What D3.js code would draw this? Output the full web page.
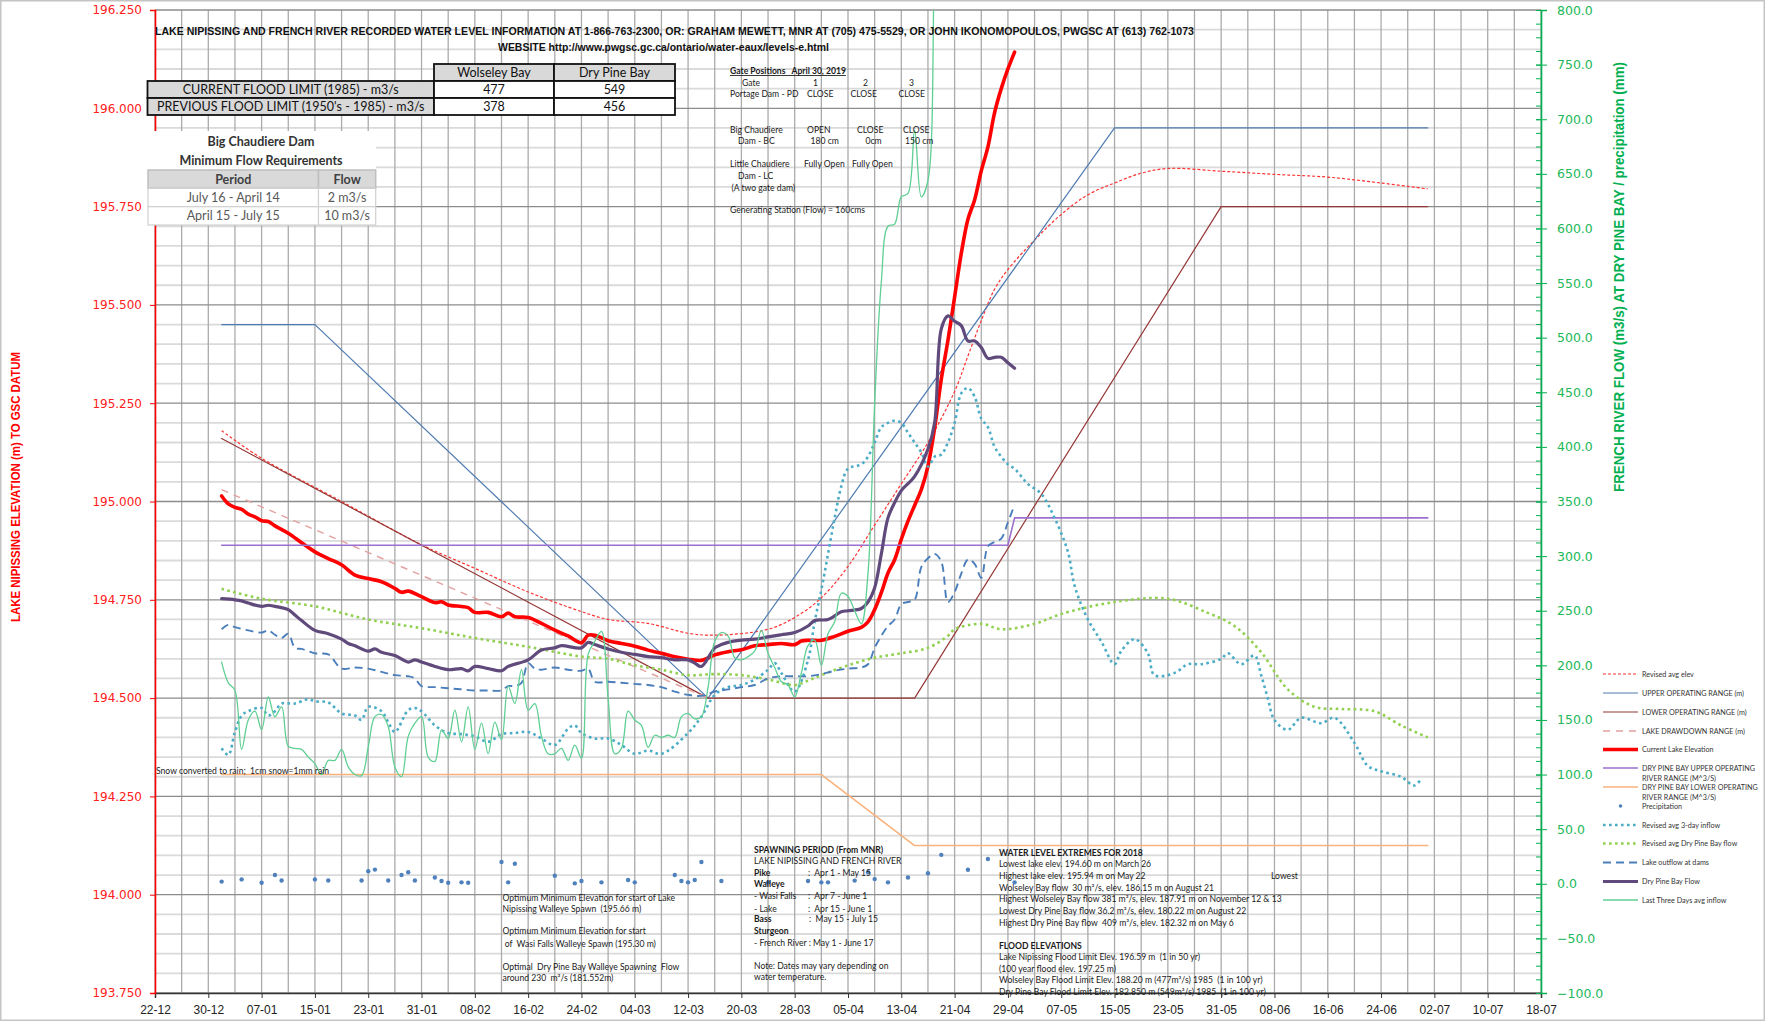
<!DOCTYPE html>
<html>
<head>
<meta charset="utf-8">
<script src="https://cdn.jsdelivr.net/npm/d3@7"></script>
<style>
  body { margin: 0; background: #fff; }
  text { font-family: Lato, "Liberation Sans", sans-serif; }
</style>
</head>
<body>
<div id="chart"></div>
<script>

// ---- data (dates are 2019, "MM-DD") ----

// left axis (m)
var upperRange = [["01-01",195.45],["01-15",195.45],["03-15",194.50],["05-15",195.95],["07-01",195.95]];
var lowerRange = [["01-01",195.16],["03-15",194.50],["04-15",194.50],["05-31",195.75],["07-01",195.75]];
var drawdownRange = [["01-01",195.03],["03-15",194.50]];
var revisedElev = [["01-01",195.18],["01-07",195.11],["01-19",195.00],["01-31",194.89],["02-08",194.83],["02-16",194.77],
  ["02-24",194.72],["02-28",194.70],["03-06",194.69],["03-12",194.665],["03-16",194.66],["03-24",194.675],["03-28",194.705],
  ["04-01",194.755],["04-05",194.835],["04-09",194.94],["04-13",195.045],["04-17",195.15],["04-21",195.28],["04-23",195.37],
  ["04-25",195.46],["04-27",195.54],["04-29",195.59],["05-03",195.665],["05-07",195.73],["05-11",195.78],["05-15",195.81],
  ["05-19",195.835],["05-23",195.847],["05-31",195.84],["06-08",195.832],["06-16",195.825],["06-24",195.81],["07-01",195.795]];
var currentElev = [["01-01",195.014],["01-02",194.994],["01-03",194.985],["01-04",194.98],["01-05",194.968],["01-06",194.961],
  ["01-07",194.951],["01-08",194.949],["01-09",194.938],["01-11",194.919],["01-13",194.895],["01-15",194.872],["01-17",194.855],
  ["01-19",194.839],["01-21",194.813],["01-23",194.804],["01-25",194.796],["01-27",194.779],["01-28",194.769],["01-29",194.772],
  ["01-31",194.758],["02-02",194.743],["02-03",194.745],["02-04",194.737],["02-06",194.733],["02-07",194.73],["02-08",194.718],
  ["02-10",194.718],["02-12",194.707],["02-13",194.716],["02-14",194.707],["02-16",194.705],["02-18",194.69],["02-20",194.673],
  ["02-22",194.658],["02-24",194.641],["02-25",194.66],["02-26",194.66],["02-28",194.646],["03-02",194.639],["03-04",194.632],
  ["03-06",194.622],["03-08",194.614],["03-10",194.605],["03-12",194.599],["03-14",194.596],["03-15",194.602],["03-16",194.61],
  ["03-18",194.618],["03-20",194.623],["03-22",194.633],["03-24",194.636],["03-26",194.639],["03-28",194.636],["03-29",194.645],
  ["03-30",194.647],["04-01",194.647],["04-03",194.657],["04-05",194.67],["04-07",194.68],["04-08",194.694],["04-09",194.725],
  ["04-10",194.768],["04-11",194.818],["04-12",194.852],["04-13",194.904],["04-14",194.95],["04-15",194.99],["04-16",195.03],
  ["04-17",195.09],["04-18",195.187],["04-19",195.311],["04-20",195.41],["04-21",195.52],["04-22",195.631],["04-23",195.718],
  ["04-24",195.767],["04-25",195.841],["04-26",195.902],["04-27",195.989],["04-28",196.05],["04-29",196.10],["04-30",196.143]];

// right axis (m3/s, mm)
var dryPineUpper = [["01-01",310],["04-29",310],["04-30",335],["07-01",335]];
var dryPineLower = [["01-01",100],["04-01",100],["04-15",35],["07-01",35]];
var precipitation = [["01-01",2],["01-04",4],["01-07",1],["01-09",8],["01-10",3],["01-15",4],["01-17",3],["01-22",3],
  ["01-23",11.5],["01-24",13],["01-26",3],["01-28",8],["01-29",10.5],["01-30",3],["02-02",5.7],["02-03",2.6],["02-04",1],
  ["02-06",1.3],["02-07",1],["02-12",20],["02-13",1.3],["02-14",18.4],["02-20",7.4],["02-23",0.4],["02-24",2.6],["02-27",1.3],
  ["03-03",3.4],["03-04",1.3],["03-10",8],["03-11",2.6],["03-12",1.3],["03-13",3.4],["03-14",20],["03-17",2.6],["03-24",1.3],
  ["03-30",2.6],["04-01",1.3],["04-02",1.3],["04-06",2.9],["04-08",10.5],["04-09",4.3],["04-11",1.3],["04-14",5.7],
  ["04-17",9.7],["04-19",26.5],["04-23",12.8],["04-26",22.7],["04-30",1.3]];
var revised3Day = [["01-01",124],["01-02",118],["01-03",139],["01-04",154],["01-05",158],["01-07",161],["01-08",154],
  ["01-09",158],["01-10",165],["01-12",165],["01-14",169],["01-15",167],["01-17",166],["01-19",156],["01-21",154],["01-22",150],
  ["01-23",162],["01-25",158],["01-26",148],["01-27",139],["01-29",159],["01-30",161],["01-31",158],["02-02",145],["02-04",138],
  ["02-06",137],["02-08",135],["02-10",130],["02-12",137],["02-14",138],["02-16",139],["02-18",133],["02-20",127],["02-22",142],
  ["02-23",145],["02-24",138],["02-26",133],["02-28",133],["03-02",127],["03-04",119],["03-06",122],["03-08",119],["03-12",138],
  ["03-14",153],["03-16",173],["03-18",180],["03-20",182],["03-22",187],["03-24",196],["03-25",202],["03-26",193],["03-28",176],
  ["03-30",205],["03-31",240],["04-01",269],["04-02",302],["04-03",335],["04-04",364],["04-05",380],["04-07",384],["04-08",391],
  ["04-09",404],["04-10",418],["04-11",422],["04-12",424],["04-13",422],["04-14",413],["04-15",404],["04-16",395],["04-17",382],
  ["04-18",391],["04-19",393],["04-20",404],["04-21",422],["04-22",449],["04-23",454],["04-24",446],["04-25",426],["04-26",418],
  ["04-27",400],["04-28",391],["04-29",384],["04-30",380],["05-01",373],["05-02",366],["05-04",357],["05-06",335],["05-08",304],
  ["05-09",273],["05-11",242],["05-13",222],["05-15",201],["05-16",213],["05-18",224],["05-20",211],["05-21",191],["05-24",193],
  ["05-26",201],["05-28",201],["05-31",206],["06-01",211],["06-03",201],["06-05",209],["06-06",191],["06-07",170],["06-08",150],
  ["06-10",141],["06-12",152],["06-15",147],["06-17",152],["06-20",129],["06-22",108],["06-24",103],["06-27",98],["06-29",90],
  ["06-30",96]];
var revisedDryPine = [["01-01",270],["01-07",261],["01-15",254],["01-23",242],["01-31",234],["02-08",225],["02-16",217],
  ["02-24",208],["02-28",206],["03-04",200],["03-08",196],["03-12",191],["03-16",192],["03-20",191],["03-24",187],["03-28",182],
  ["03-30",186],["04-01",191],["04-05",200],["04-09",207],["04-13",211],["04-17",216],["04-20",227],["04-21",233],["04-25",238],
  ["04-28",233],["05-03",238],["05-07",247],["05-15",258],["05-23",261],["05-29",248],["06-02",236],["06-06",212],["06-10",178],
  ["06-14",162],["06-18",160],["06-23",158],["06-27",145],["07-01",134]];
var lakeOutflow = [["01-01",233],["01-02",237],["01-03",235],["01-05",232],["01-07",230],["01-08",232],["01-09",228],["01-10",225],
  ["01-11",229],["01-12",216],["01-13",215],["01-15",211],["01-17",210],["01-19",197],["01-21",198],["01-23",197],["01-25",194],
  ["01-27",191],["01-29",190],["01-30",188],["01-31",181],["02-02",180],["02-04",179],["02-06",178],["02-08",177],["02-10",177],
  ["02-12",177],["02-13",181],["02-14",181],["02-15",184],["02-16",202],["02-17",197],["02-18",196],["02-20",198],["02-22",196],
  ["02-24",195],["02-25",197],["02-26",185],["02-28",185],["03-02",184],["03-04",183],["03-06",182],["03-08",180],["03-10",176],
  ["03-12",173],["03-14",172],["03-16",176],["03-18",178],["03-20",180],["03-22",182],["03-24",188],["03-26",190],["03-28",190],
  ["03-30",190],["04-01",192],["04-03",195],["04-05",197],["04-07",198],["04-08",201],["04-09",216],["04-10",227],["04-11",236],
  ["04-12",242],["04-13",256],["04-14",258],["04-15",260],["04-16",290],["04-17",298],["04-18",302],["04-19",295],["04-20",258],
  ["04-21",267],["04-22",284],["04-23",297],["04-24",293],["04-25",280],["04-26",309],["04-27",313],["04-28",316],["04-29",331],
  ["04-30",347]];
var dryPineFlow = [["01-01",261],["01-03",260],["01-04",259],["01-05",257],["01-07",254],["01-08",255],["01-09",254],["01-11",251],
  ["01-12",246],["01-13",241],["01-15",232],["01-17",229],["01-19",224],["01-20",220],["01-21",218],["01-23",213],["01-24",215],
  ["01-25",212],["01-27",209],["01-29",203],["01-30",205],["01-31",203],["02-02",199],["02-04",196],["02-06",197],["02-07",195],
  ["02-08",199],["02-10",197],["02-12",195],["02-13",199],["02-16",205],["02-18",214],["02-20",216],["02-21",218],["02-24",216],
  ["02-25",221],["02-26",219],["02-28",215],["03-02",212],["03-04",210],["03-06",208],["03-08",207],["03-10",205],["03-12",205],
  ["03-13",202],["03-14",199],["03-16",216],["03-17",219],["03-18",221],["03-20",223],["03-22",224],["03-24",226],["03-26",228],
  ["03-28",230],["03-30",236],["03-31",241],["04-02",242],["04-04",249],["04-05",250],["04-07",252],["04-08",258],["04-09",271],
  ["04-10",302],["04-11",335],["04-12",349],["04-13",360],["04-15",373],["04-17",398],["04-18",422],["04-19",508],["04-20",520],
  ["04-21",515],["04-22",511],["04-23",497],["04-24",497],["04-25",491],["04-26",481],["04-27",482],["04-28",482],["04-29",477],
  ["04-30",472]];
var lastThreeDays = [["01-01",203],["01-02",184],["01-03",177],["01-04",123],["01-05",150],["01-06",158],["01-07",141],
  ["01-08",171],["01-09",153],["01-10",162],["01-11",126],["01-12",124],["01-13",123],["01-14",116],["01-15",110],["01-16",100],
  ["01-17",113],["01-18",113],["01-19",123],["01-20",107],["01-21",100],["01-22",99],["01-23",125],["01-24",153],["01-25",155],
  ["01-26",144],["01-27",107],["01-28",98],["01-29",135],["01-30",147],["01-31",153],["02-01",116],["02-02",112],["02-03",141],
  ["02-04",133],["02-05",159],["02-06",130],["02-07",162],["02-08",123],["02-09",147],["02-10",119],["02-11",148],["02-12",132],
  ["02-13",181],["02-14",165],["02-15",196],["02-16",159],["02-17",165],["02-18",135],["02-19",119],["02-20",119],["02-21",124],
  ["02-22",113],["02-23",127],["02-24",115],["02-25",210],["02-26",222],["02-27",231],["02-28",170],["03-01",119],["03-02",124],
  ["03-03",158],["03-04",150],["03-05",145],["03-06",125],["03-07",136],["03-08",134],["03-09",136],["03-10",134],["03-11",153],
  ["03-12",156],["03-13",151],["03-14",153],["03-15",180],["03-16",222],["03-17",230],["03-18",227],["03-19",207],["03-20",205],
  ["03-21",208],["03-22",213],["03-23",232],["03-24",211],["03-25",198],["03-26",185],["03-27",182],["03-28",171],["03-29",193],
  ["03-30",218],["03-31",223],["04-01",200],["04-02",229],["04-03",240],["04-04",266],["04-05",263],["04-06",250],["04-07",238],
  ["04-08",284],["04-09",440],["04-10",551],["04-11",602],["04-12",604],["04-13",629],["04-14",632],["04-15",690],["04-16",629],
  ["04-17",644],["04-18",840],["04-19",950]];

// axes
var leftTicks = [193.75, 194.0, 194.25, 194.5, 194.75, 195.0, 195.25, 195.5, 195.75, 196.0, 196.25];
var rightTicks = [-100, -50, 0, 50, 100, 150, 200, 250, 300, 350, 400, 450, 500, 550, 600, 650, 700, 750, 800];

// tables
var floodCols = ["Wolseley Bay", "Dry Pine Bay"];
var floodRows = [["CURRENT FLOOD LIMIT (1985) - m3/s", "477", "549"],
                 ["PREVIOUS FLOOD LIMIT (1950's - 1985) - m3/s", "378", "456"]];
var flowCols = ["Period", "Flow"];
var flowRows = [["July 16 - April 14", "2 m3/s"], ["April 15 - July 15", "10 m3/s"]];

// ---- drawing ----
var W = 1765, H = 1021;
var plotL = 155, plotR = 1541, plotT = 10, plotB = 993;

var parseDate = d3.timeParse("%Y-%m-%d");
function day(s) { return parseDate("2019-" + s); }
var xStart = parseDate("2018-12-22");

var svg = d3.select("#chart").append("svg")
    .attr("width", W).attr("height", H);

svg.append("rect").attr("x", 0.5).attr("y", 0.5).attr("width", W - 1).attr("height", H - 1)
    .attr("fill", "#fff").attr("stroke", "#c4c4c4").attr("stroke-width", 2);

var x = d3.scaleTime().domain([xStart, d3.timeDay.offset(xStart, 208)]).range([plotL, plotR]);
var yL = d3.scaleLinear().domain([193.75, 196.25]).range([plotB, plotT]);
var yR = d3.scaleLinear().domain([-100, 800]).range([plotB, plotT]);

// grid
var grid = svg.append("g");
d3.range(0, 51).forEach(function(i) {
  if (i % 5 == 0) return;
  var v = 193.75 + i * 0.05;
  grid.append("line").attr("x1", plotL).attr("x2", plotR).attr("y1", yL(v)).attr("y2", yL(v))
      .attr("stroke", "#dadada").attr("stroke-width", 1.8);
});
d3.range(0, 209, 4).forEach(function(i) {
  var xx = x(d3.timeDay.offset(xStart, i));
  grid.append("line").attr("x1", xx).attr("x2", xx).attr("y1", plotT).attr("y2", plotB)
      .attr("stroke", "#ababab").attr("stroke-width", 1.3);
});
leftTicks.forEach(function(v) {
  grid.append("line").attr("x1", plotL).attr("x2", plotR).attr("y1", yL(v)).attr("y2", yL(v))
      .attr("stroke", "#8c8c8c").attr("stroke-width", 1.3);
});

// axes
var xTicks = d3.range(0, 209, 8).map(function(i) { return d3.timeDay.offset(xStart, i); });
var xAxis = svg.append("g").attr("transform", "translate(0," + plotB + ")")
    .call(d3.axisBottom(x).tickValues(xTicks).tickFormat(d3.timeFormat("%d-%m")).tickSize(5));
xAxis.select(".domain").attr("stroke", "#333").attr("stroke-width", 1.5);
xAxis.selectAll(".tick line").attr("stroke", "#333");
xAxis.selectAll("text").attr("font-size", 12).attr("fill", "#222").attr("dy", "1.05em")
    .style("font-family", "'Liberation Sans Narrow', 'Liberation Sans', sans-serif");

var lAxis = svg.append("g").attr("transform", "translate(" + plotL + ",0)")
    .call(d3.axisLeft(yL).tickValues(leftTicks).tickFormat(d3.format(".3f")).tickSize(5).tickPadding(8));
lAxis.select(".domain").attr("stroke", "#ff0000").attr("stroke-width", 1.6);
lAxis.selectAll(".tick line").attr("stroke", "#ff0000");
lAxis.selectAll("text").attr("fill", "#ff2020").attr("font-size", 12)
    .style("font-family", "'DejaVu Sans', sans-serif");

var rMinor = svg.append("g").attr("transform", "translate(" + plotR + ",0)")
    .call(d3.axisLeft(yR).tickValues(d3.range(-100, 800.1, 12.5)).tickFormat("").tickSize(5));
rMinor.select(".domain").remove();
rMinor.selectAll(".tick line").attr("stroke", "#00b050");

var rAxis = svg.append("g").attr("transform", "translate(" + plotR + ",0)")
    .call(d3.axisRight(yR).tickValues(rightTicks).tickFormat(d3.format(".1f")).tickSize(6).tickPadding(10));
rAxis.select(".domain").attr("stroke", "#00b050").attr("stroke-width", 1.6);
rAxis.selectAll(".tick line").attr("stroke", "#00b050").attr("x1", -5);
rAxis.selectAll("text").attr("fill", "#22b85a").attr("font-size", 12.5)
    .style("font-family", "'DejaVu Sans', sans-serif");

// axis titles
svg.append("text").attr("transform", "translate(20,487) rotate(-90)")
    .attr("text-anchor", "middle").attr("fill", "#ff0000").attr("font-weight", "bold").attr("font-size", 12)
    .attr("textLength", 270).attr("lengthAdjust", "spacingAndGlyphs")
    .style("font-family", "'Liberation Sans', sans-serif")
    .text("LAKE NIPISSING ELEVATION (m) TO GSC DATUM");
svg.append("text").attr("transform", "translate(1624,277) rotate(-90)")
    .attr("text-anchor", "middle").attr("fill", "#00b050").attr("font-weight", "bold").attr("font-size", 14)
    .attr("textLength", 430).attr("lengthAdjust", "spacingAndGlyphs")
    .style("font-family", "'Liberation Sans', sans-serif")
    .text("FRENCH RIVER FLOW (m3/s) AT DRY PINE BAY /  precipitation (mm)");

// series
var styles = {
  revisedElev: {stroke: "#ff3333", width: 1.2, dash: "3,2"},
  upper:       {stroke: "#4f7bb0", width: 1.2},
  lower:       {stroke: "#953735", width: 1.2},
  drawdown:    {stroke: "#e3a0a0", width: 1.4, dash: "7,6"},
  current:     {stroke: "#ff0000", width: 3.6},
  dpUpper:     {stroke: "#9b6fd0", width: 1.6},
  dpLower:     {stroke: "#f9b27c", width: 1.6},
  precip:      {stroke: "#4f81bd"},
  rev3:        {stroke: "#4bacc6", width: 2.6, dash: "2.6,3.4"},
  revDP:       {stroke: "#92d050", width: 2.6, dash: "2.6,3.4"},
  outflow:     {stroke: "#4a7ebb", width: 1.9, dash: "8,5"},
  dpFlow:      {stroke: "#604a7b", width: 3.2},
  last3:       {stroke: "#5fcf94", width: 1.3}
};

svg.append("clipPath").attr("id", "plotclip").append("rect")
    .attr("x", plotL).attr("y", plotT).attr("width", plotR - plotL).attr("height", plotB - plotT);
var plotG = svg.append("g").attr("clip-path", "url(#plotclip)");

function plot(data, y, st, curve) {
  var line = d3.line()
      .x(function(d) { return x(day(d[0])); })
      .y(function(d) { return y(d[1]); })
      .curve(curve || d3.curveLinear);
  plotG.append("path").datum(data)
      .attr("d", line)
      .attr("fill", "none")
      .attr("stroke", st.stroke)
      .attr("stroke-width", st.width)
      .attr("stroke-dasharray", st.dash || null)
      .attr("stroke-linejoin", "round")
      .attr("stroke-linecap", st.dash ? "butt" : "round");
}

var smooth = d3.curveCatmullRom.alpha(0.5);
plot(revisedElev, yL, styles.revisedElev, smooth);
plot(upperRange, yL, styles.upper);
plot(lowerRange, yL, styles.lower);
plot(drawdownRange, yL, styles.drawdown);
plot(currentElev, yL, styles.current, smooth);
plot(dryPineUpper, yR, styles.dpUpper);
plot(dryPineLower, yR, styles.dpLower);
plotG.selectAll(".precip").data(precipitation).enter().append("circle")
    .attr("class", "precip")
    .attr("cx", function(d) { return x(day(d[0])); })
    .attr("cy", function(d) { return yR(d[1]); })
    .attr("r", 2.2)
    .attr("fill", styles.precip.stroke);
plot(revised3Day, yR, styles.rev3, smooth);
plot(revisedDryPine, yR, styles.revDP, smooth);
plot(lakeOutflow, yR, styles.outflow, smooth);
plot(dryPineFlow, yR, styles.dpFlow, smooth);
plot(lastThreeDays, yR, styles.last3, smooth);

// header
svg.append("text").attr("x", 155).attr("y", 35).attr("font-size", 11).attr("font-weight", "bold").attr("fill", "#111")
    .attr("textLength", 1039).attr("lengthAdjust", "spacingAndGlyphs")
    .style("font-family", "'Liberation Sans', sans-serif")
    .text("LAKE NIPISSING AND FRENCH RIVER RECORDED WATER LEVEL INFORMATION AT 1-866-763-2300, OR: GRAHAM MEWETT, MNR AT (705) 475-5529,  OR  JOHN IKONOMOPOULOS, PWGSC AT (613) 762-1073");
svg.append("text").attr("x", 498).attr("y", 50.5).attr("font-size", 11).attr("font-weight", "bold").attr("fill", "#111")
    .attr("textLength", 331).attr("lengthAdjust", "spacingAndGlyphs")
    .style("font-family", "'Liberation Sans', sans-serif")
    .text("WEBSITE http://www.pwgsc.gc.ca/ontario/water-eaux/levels-e.html");

// flood limit table
var ft = svg.append("g");
var fx = [147.5, 434, 554, 675], fy = [64, 81, 98, 115];
floodCols.forEach(function(c, i) {
  ft.append("rect").attr("x", fx[i + 1]).attr("y", fy[0]).attr("width", fx[i + 2] - fx[i + 1]).attr("height", fy[1] - fy[0])
      .attr("fill", "#d9d9d9").attr("stroke", "#111").attr("stroke-width", 1.8);
  ft.append("text").attr("x", (fx[i + 1] + fx[i + 2]) / 2).attr("y", fy[0] + 12.5).attr("text-anchor", "middle")
      .attr("font-size", 12.5).attr("fill", "#111").text(c);
});
floodRows.forEach(function(r, j) {
  r.forEach(function(c, i) {
    ft.append("rect").attr("x", fx[i]).attr("y", fy[j + 1]).attr("width", fx[i + 1] - fx[i]).attr("height", fy[j + 2] - fy[j + 1])
        .attr("fill", i == 0 ? "#d9d9d9" : "#fff").attr("stroke", "#111").attr("stroke-width", 1.8);
    ft.append("text").attr("x", (fx[i] + fx[i + 1]) / 2).attr("y", fy[j + 1] + 12.5).attr("text-anchor", "middle")
        .attr("font-size", 12.5).attr("fill", "#111").text(c);
  });
});

// minimum flow table
var mt = svg.append("g");
mt.append("rect").attr("x", 148).attr("y", 131).attr("width", 228).attr("height", 94).attr("fill", "#fff");
mt.append("text").attr("x", 261).attr("y", 146).attr("text-anchor", "middle").attr("font-weight", "bold")
    .attr("font-size", 12.5).attr("fill", "#333").text("Big Chaudiere Dam");
mt.append("text").attr("x", 261).attr("y", 165).attr("text-anchor", "middle").attr("font-weight", "bold")
    .attr("font-size", 12.5).attr("fill", "#333").text("Minimum Flow Requirements");
var mx = [148, 318.5, 375.7], my = [170, 188.3, 206.7, 225];
flowCols.forEach(function(c, i) {
  mt.append("rect").attr("x", mx[i]).attr("y", my[0]).attr("width", mx[i + 1] - mx[i]).attr("height", my[1] - my[0])
      .attr("fill", "#d9d9d9").attr("stroke", "#bfbfbf").attr("stroke-width", 1.5);
  mt.append("text").attr("x", (mx[i] + mx[i + 1]) / 2).attr("y", my[0] + 13.5).attr("text-anchor", "middle")
      .attr("font-weight", "bold").attr("font-size", 12.5).attr("fill", "#404040").text(c);
});
flowRows.forEach(function(r, j) {
  r.forEach(function(c, i) {
    mt.append("rect").attr("x", mx[i]).attr("y", my[j + 1]).attr("width", mx[i + 1] - mx[i]).attr("height", my[j + 2] - my[j + 1])
        .attr("fill", "#fff").attr("stroke", "#d0d0d0").attr("stroke-width", 1.2);
    mt.append("text").attr("x", (mx[i] + mx[i + 1]) / 2).attr("y", my[j + 1] + 13.5).attr("text-anchor", "middle")
        .attr("font-size", 12.5).attr("fill", "#595959").text(c);
  });
});

// free text notes [x, y, text, bold]
var notes = [
  [730, 74, "Gate Positions   April 30, 2019", "u"],
  [742, 85.5, "Gate"], [813, 85.5, "1"], [863, 85.5, "2"], [909, 85.5, "3"],
  [730, 97, "Portage Dam - PD"], [807, 97, "CLOSE"], [850.5, 97, "CLOSE"], [898.5, 97, "CLOSE"],
  [730, 132.5, "Big Chaudiere"], [807, 132.5, "OPEN"], [857, 132.5, "CLOSE"], [903, 132.5, "CLOSE"],
  [738, 143.5, "Dam - BC"], [810.5, 143.5, "180 cm"], [865.5, 143.5, "0cm"], [905, 143.5, "150 cm"],
  [730, 167, "Little Chaudiere"], [804, 167, "Fully Open"], [852, 167, "Fully Open"],
  [738, 178.5, "Dam - LC"], [731.5, 190.5, "(A two gate dam)"],
  [730, 213, "Generating Station (Flow) = 160cms"],
  [156, 774, "Snow converted to rain;  1cm snow=1mm rain"],
  [502.5, 900.5, "Optimum Minimum Elevation for start of Lake"],
  [502.5, 912, "Nipissing Walleye Spawn  (195.66 m)"],
  [502.5, 934, "Optimum Minimum Elevation for start"],
  [502.5, 946.5, " of  Wasi Falls Walleye Spawn (195.30 m)"],
  [502.5, 970, "Optimal  Dry Pine Bay Walleye Spawning  Flow"],
  [502.5, 981, "around 230  m\u00b3/s (181.552m)"],
  [754, 853, "SPAWNING PERIOD (From MNR)", "b"],
  [754, 864, "LAKE NIPISSING AND FRENCH RIVER"],
  [754, 876, "Pike", "b"], [808, 876, ":  Apr 1 - May 15"],
  [754, 887, "Walleye", "b"],
  [754, 899, "- Wasi Falls"], [808, 899, ":  Apr 7 - June 1"],
  [754, 911.5, "- Lake"], [808, 911.5, ":  Apr 15 - June 1"],
  [754, 922, "Bass", "b"], [809, 922, ":  May 15 - July 15"],
  [754, 934, "Sturgeon", "b"],
  [754, 946, "- French River : May 1 - June 17"],
  [754, 969, "Note: Dates may vary depending on"],
  [754, 980, "water temperature."],
  [999, 856, "WATER LEVEL EXTREMES FOR 2018", "b"],
  [999, 867, "Lowest lake elev. 194.60 m on March 26"],
  [999, 879, "Highest lake elev. 195.94 m on May 22"],
  [1271, 879, "Lowest"],
  [999, 890.5, "Wolseley Bay flow  30 m\u00b3/s, elev. 186.15 m on August 21"],
  [999, 902, "Highest Wolseley Bay flow 381 m\u00b3/s, elev. 187.91 m on November 12 & 13"],
  [999, 914, "Lowest Dry Pine Bay flow 36.2 m\u00b3/s, elev. 180.22 m on August 22"],
  [999, 925.5, "Highest Dry Pine Bay flow  409 m\u00b3/s, elev. 182.32 m on May 6"],
  [999, 949, "FLOOD ELEVATIONS", "b"],
  [999, 960, "Lake Nipissing Flood Limit Elev. 196.59 m  (1 in 50 yr)"],
  [999, 972, "(100 year flood elev. 197.25 m)"],
  [999, 983, "Wolseley Bay Flood Limit Elev. 188.20 m (477m\u00b3/s) 1985  (1 in 100 yr)"],
  [999, 995, "Dry Pine Bay Flood Limit Elev. 182.850 m (549m\u00b3/s) 1985  (1 in 100 yr)"]
];
svg.append("g").selectAll("text").data(notes).enter().append("text")
    .attr("x", function(d) { return d[0]; })
    .attr("y", function(d) { return d[1]; })
    .attr("font-size", 8.6)
    .attr("fill", "#1a1a1a")
    .attr("font-weight", function(d) { return d[3] ? "bold" : "normal"; })
    .attr("text-decoration", function(d) { return d[3] == "u" ? "underline" : null; })
    .style("white-space", "pre")
    .text(function(d) { return d[2]; });

// legend
var legendItems = [
  ["Revised avg elev", "revisedElev"],
  ["UPPER OPERATING RANGE (m)", "upper"],
  ["LOWER OPERATING RANGE (m)", "lower"],
  ["LAKE DRAWDOWN RANGE (m)", "drawdown"],
  ["Current Lake Elevation", "current"],
  ["DRY PINE BAY UPPER OPERATING|RIVER RANGE (M^3/S)", "dpUpper"],
  ["DRY PINE BAY LOWER OPERATING|RIVER RANGE (M^3/S)", "dpLower"],
  ["Precipitation", "precip"],
  ["Revised avg 3-day inflow", "rev3"],
  ["Revised avg Dry Pine Bay flow", "revDP"],
  ["Lake outflow at dams", "outflow"],
  ["Dry Pine Bay Flow", "dpFlow"],
  ["Last Three Days avg inflow", "last3"]
];
var legendY = [674, 693, 712, 731, 749.5, 768, 787, 806, 825, 843.5, 862.5, 881.5, 900];
var lg = svg.append("g");
legendItems.forEach(function(item, i) {
  var st = styles[item[1]], yy = legendY[i];
  if (item[1] == "precip") {
    lg.append("circle").attr("cx", 1620.5).attr("cy", yy).attr("r", 1.8).attr("fill", st.stroke);
  } else {
    lg.append("line").attr("x1", 1603).attr("x2", 1638).attr("y1", yy).attr("y2", yy)
        .attr("stroke", st.stroke).attr("stroke-width", st.width).attr("stroke-dasharray", st.dash || null);
  }
  item[0].split("|").forEach(function(t, k) {
    lg.append("text").attr("x", 1642).attr("y", yy + 2.5 + k * 10).attr("font-size", 7.2).attr("fill", "#333").text(t);
  });
});

</script>
</body>
</html>
